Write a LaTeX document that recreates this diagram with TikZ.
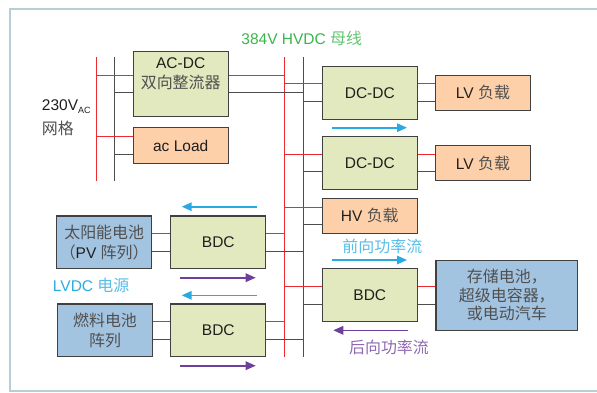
\documentclass[tikz,border=0pt]{standalone}
\usepackage{fontspec}
\setmainfont{Liberation Sans}
\newfontfamily\cjkfont[Scale=1.03]{Noto Sans CJK SC}
\newcommand{\zh}[1]{{\cjkfont\color{.!78!white}#1}}
\usetikzlibrary{positioning, arrows.meta}
\definecolor{conv}{HTML}{E2E9BF}
\definecolor{load}{HTML}{FDD0AA}
\definecolor{store}{HTML}{A3C4E1}
\definecolor{edge}{HTML}{404040}
\definecolor{wirered}{HTML}{EE2A30}
\definecolor{wiredark}{HTML}{4D4D4D}
\definecolor{busgreen}{HTML}{39B54A}
\definecolor{fwdblue}{HTML}{29ABE2}
\definecolor{revpurple}{HTML}{6E3F9C}
\definecolor{framecol}{HTML}{B7CED7}

\begin{document}
\begin{tikzpicture}[x=1pt, y=-1pt,
        font=\fontsize{15.5pt}{18.6pt}\selectfont, text=black!88,
        every node/.style={align=center},
        unit/.style={draw=edge, line width=1.1pt, fill=#1, minimum width=95pt, minimum height=52.7pt, inner sep=1pt},
        wirep/.style={wirered, line width=1pt},
        wiren/.style={wiredark, line width=1pt},
        flow/.style={-{Triangle[length=10pt, width=8.5pt]}, line width=1.6pt, #1}]

        \clip (0,0) rectangle (597,392);
        \draw[framecol, line width=2pt] (10,9) rectangle (612,391);

        % 母线
        \coordinate (acP-top) at (96,57);    \coordinate (acP-bot) at (96,181);
        \coordinate (acN-top) at (114.7,57); \coordinate (acN-bot) at (114.7,181);
        \coordinate (hvP-top) at (284.5,57); \coordinate (hvP-bot) at (284.5,357);
        \coordinate (hvN-top) at (303.7,57); \coordinate (hvN-bot) at (303.7,357);
        \draw[wirep] (acP-top) -- (acP-bot);
        \draw[wiren] (acN-top) -- (acN-bot);
        \draw[wirep] (hvP-top) -- (hvP-bot);
        \draw[wiren] (hvN-top) -- (hvN-bot);

        % 交流侧
        \node[unit=conv, minimum height=64.6pt] (acdc) at (180.7,84) {};
        \node (acdc-txt) at (180.7,74.2) {AC-DC\\[1.4pt]\zh{双向整流器}};
        \node[unit=load, minimum height=35.6pt] (acload) at (180.7,145.5) {ac Load};

        % 直流负载与储能
        \node[unit=conv] (dcdc1) at (369.8,92.7) {DC-DC};
        \node[unit=load, minimum width=94.6pt, minimum height=34.7pt] (lv1) at (483,92.7) {LV \zh{负载}};
        \node[unit=conv] (dcdc2) at (369.8,163) {DC-DC};
        \node[unit=load, minimum width=94.6pt, minimum height=35pt] (lv2) at (483,163) {LV \zh{负载}};
        \node[unit=load, minimum height=35pt] (hvload) at (369.8,215.8) {HV \zh{负载}};
        \node[unit=conv, minimum height=53pt] (bdc3) at (369.8,295.2) {BDC};
        \node[unit=store, minimum width=141.7pt, minimum height=70.3pt] (storage) at (506.8,295.2)
            {\zh{存储电池，}\\\zh{超级电容器，}\\\zh{或电动汽车}};

        % 低压直流电源
        \node[unit=store] (pv) at (104.2,242.3) {\zh{太阳能电池}\\[1.4pt]\zh{（}PV \zh{阵列）}};
        \node[unit=conv] (bdc1) at (218.3,242.3) {BDC};
        \node[unit=store] (fuel) at (105,330.3) {\zh{燃料电池}\\[1.4pt]\zh{阵列}};
        \node[unit=conv] (bdc2) at (218.3,330.3) {BDC};

        % 标注
        \node[text=busgreen] (lbl-bus) at (301.8,38.7) {384V HVDC \zh{母线}};
        \node[anchor=base west, inner sep=0pt] (lbl-ac) at (41.7,110) {230V\raisebox{-3pt}{\fontsize{9pt}{9pt}\selectfont AC}};
        \node[anchor=west, inner sep=0pt] (lbl-grid) at (41.7,128.3) {\zh{网格}};
        \node[text=fwdblue] (lbl-lvdc) at (91.2,285.7) {LVDC \zh{电源}};
        \node[text=fwdblue] (lbl-fwd) at (382.3,246) {\zh{前向功率流}};
        \node[text=revpurple] (lbl-rev) at (389,347.7) {\zh{后向功率流}};

        % 连线：红线在上，灰线在下
        \draw[wirep] ([yshift=8.8pt]acdc.west) -- ([yshift=8.8pt]acdc.west -| acP-top);
        \draw[wiren] ([yshift=-8.8pt]acdc.west) -- ([yshift=-8.8pt]acdc.west -| acN-top);
        \draw[wirep] ([yshift=8.8pt]acdc.east) -- ([yshift=8.8pt]acdc.east -| hvP-top);
        \draw[wiren] ([yshift=-8.8pt]acdc.east) -- ([yshift=-8.8pt]acdc.east -| hvN-top);
        \draw[wirep] ([yshift=8.8pt]acload.west) -- ([yshift=8.8pt]acload.west -| acP-top);
        \draw[wiren] ([yshift=-8.8pt]acload.west) -- ([yshift=-8.8pt]acload.west -| acN-top);

        \draw[wirep] ([yshift=8.8pt]dcdc1.west) -- ([yshift=8.8pt]dcdc1.west -| hvP-top);
        \draw[wiren] ([yshift=-8.8pt]dcdc1.west) -- ([yshift=-8.8pt]dcdc1.west -| hvN-top);
        \draw[wirep] ([yshift=8.8pt]dcdc1.east) -- ([yshift=8.8pt]lv1.west);
        \draw[wiren] ([yshift=-8.8pt]dcdc1.east) -- ([yshift=-8.8pt]lv1.west);
        \draw[wirep] ([yshift=8.8pt]dcdc2.west) -- ([yshift=8.8pt]dcdc2.west -| hvP-top);
        \draw[wiren] ([yshift=-8.8pt]dcdc2.west) -- ([yshift=-8.8pt]dcdc2.west -| hvN-top);
        \draw[wirep] ([yshift=8.8pt]dcdc2.east) -- ([yshift=8.8pt]lv2.west);
        \draw[wiren] ([yshift=-8.8pt]dcdc2.east) -- ([yshift=-8.8pt]lv2.west);
        \draw[wirep] ([yshift=8.8pt]hvload.west) -- ([yshift=8.8pt]hvload.west -| hvP-top);
        \draw[wiren] ([yshift=-8.8pt]hvload.west) -- ([yshift=-8.8pt]hvload.west -| hvN-top);
        \draw[wirep] ([yshift=8.8pt]bdc3.west) -- ([yshift=8.8pt]bdc3.west -| hvP-top);
        \draw[wiren] ([yshift=-8.8pt]bdc3.west) -- ([yshift=-8.8pt]bdc3.west -| hvN-top);
        \draw[wirep] ([yshift=8.8pt]bdc3.east) -- ([yshift=8.8pt]storage.west);
        \draw[wiren] ([yshift=-8.8pt]bdc3.east) -- ([yshift=-8.8pt]storage.west);

        \draw[wirep] ([yshift=8.8pt]pv.east) -- ([yshift=8.8pt]bdc1.west);
        \draw[wiren] ([yshift=-8.8pt]pv.east) -- ([yshift=-8.8pt]bdc1.west);
        \draw[wirep] ([yshift=8.8pt]bdc1.east) -- ([yshift=8.8pt]bdc1.east -| hvP-top);
        \draw[wiren] ([yshift=-8.8pt]bdc1.east) -- ([yshift=-8.8pt]bdc1.east -| hvN-top);
        \draw[wirep] ([yshift=8.8pt]fuel.east) -- ([yshift=8.8pt]bdc2.west);
        \draw[wiren] ([yshift=-8.8pt]fuel.east) -- ([yshift=-8.8pt]bdc2.west);
        \draw[wirep] ([yshift=8.8pt]bdc2.east) -- ([yshift=8.8pt]bdc2.east -| hvP-top);
        \draw[wiren] ([yshift=-8.8pt]bdc2.east) -- ([yshift=-8.8pt]bdc2.east -| hvN-top);

        % 功率流方向
        \draw[flow=fwdblue] (331.7,127.7) -- (407,127.7);
        \draw[flow=fwdblue] (331.7,260) -- (407,260);
        \draw[flow=revpurple] (408.3,330.3) -- (333.3,330.3);
        \draw[flow=fwdblue] (256.7,206.7) -- (181.7,206.7);
        \draw[flow=revpurple] (180,277.7) -- (255.7,277.7);
        \draw[flow=fwdblue] (256.7,295.3) -- (181.7,295.3);
        \draw[flow=revpurple] (180,365.7) -- (255.7,365.7);
    \end{tikzpicture}
\end{document}
